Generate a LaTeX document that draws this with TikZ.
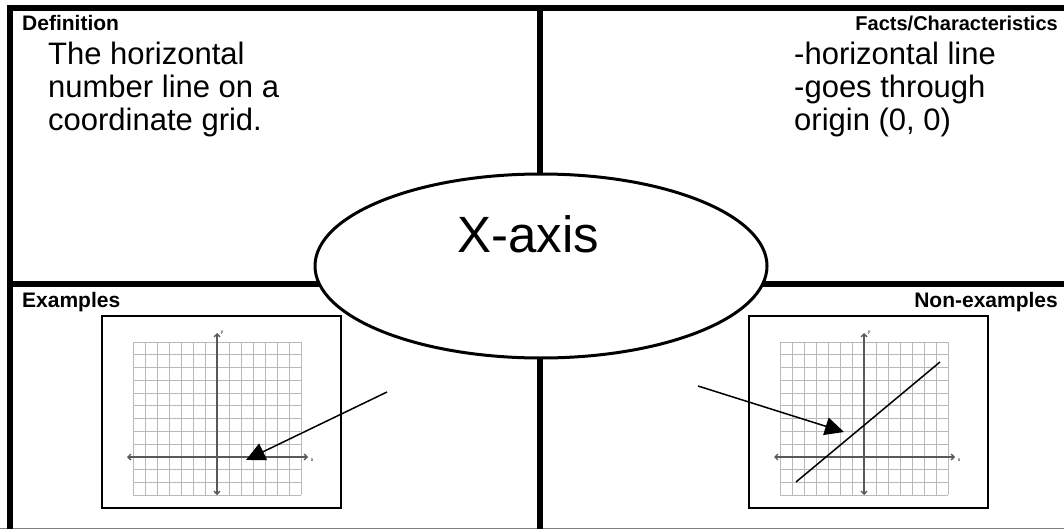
\documentclass[tikz,border=0pt]{standalone}
\usepackage{fontspec}
\setmainfont{Liberation Sans}
\usepackage{tikz}
\usetikzlibrary{arrows.meta,positioning,shapes.geometric}

\begin{document}
\begin{tikzpicture}[
    x=1pt, y=-1pt,
    frame/.style={line width=6pt, line cap=rect},
    header/.style={font=\fontsize{21}{24}\selectfont\bfseries, inner sep=0pt},
    body/.style={font=\fontsize{31}{33}\selectfont, align=left, inner sep=0pt},
    topic/.style={ellipse, draw, line width=3pt, fill=white, minimum width=452pt, minimum height=184pt},
    panel/.style={rectangle, draw, line width=1.5pt, fill=white, minimum width=239pt, minimum height=192pt, inner sep=0pt},
    gridline/.style={gray!55, line width=1pt},
    axis/.style={gray!70!black, line width=1.3pt, {Straight Barb[length=3pt,width=6pt]}-{Straight Barb[length=3pt,width=6pt]}},
    pointer/.style={line width=1.5pt, -{Triangle[length=19pt,width=18pt]}}
]
    \useasboundingbox (0,0) rectangle (1064,529);

    % Frame and quadrant lines
    \coordinate (tl) at (10,8);
    \coordinate (tr) at (1064,8);
    \coordinate (bl) at (10,529);
    \coordinate (ml) at (10,284);
    \coordinate (mr) at (1064,284);
    \coordinate (mt) at (540,8);
    \coordinate (mb) at (540,529);
    \draw[gray, line width=1pt] (0,528) -- (1064,528);
    \draw[frame] (tr) -- (tl) -- (bl);
    \draw[frame] (ml) -- (mr);
    \draw[frame] (mt) -- (mb);

    % Headers
    \node[header, anchor=base west] (defhead) at (22,31) {Definition};
    \node[header, anchor=base east, font=\fontsize{20}{24}\selectfont\bfseries] (facthead) at (1058,31) {Facts/Characteristics};
    \node[header, anchor=base west] (exhead) at (22,307) {Examples};
    \node[header, anchor=base east] (nonhead) at (1058,307) {Non-examples};

    % Texts
    \node[body, anchor=north west] (deftext) at (48,42) {The horizontal\\number line on a\\coordinate grid.};
    \node[body, anchor=north west] (facttext) at (794,42) {-horizontal line\\-goes through\\origin (0, 0)};

    % Graph panels
    \foreach \bx/\nm in {101/ex, 748/non} {
        \node[panel, anchor=north west] (\nm box) at (\bx,315) {};
        \begin{scope}[shift={(\bx,315)}]
            \foreach \i in {0,...,14}
                \draw[gridline] (32+12*\i,27) -- (32+12*\i,180);
            \foreach \j in {0,...,12}
                \draw[gridline] (32,27+12.75*\j) -- (200,27+12.75*\j);
            \draw[axis] (116,180) -- (116,18);
            \draw[axis] (26,142) -- (207,142);
            \node[font=\fontsize{5}{5}\selectfont, inner sep=0pt] (\nm y) at (121,18) {y};
            \node[font=\fontsize{5}{5}\selectfont, inner sep=0pt] (\nm x) at (211,145) {x};
        \end{scope}
    }

    % Line in non-example
    \coordinate (linea) at (796,482);
    \coordinate (lineb) at (940,362);
    \draw[line width=1.5pt] (linea) -- (lineb);

    % Center oval
    \node[topic] (oval) at (541,266) {};
    \node[font=\fontsize{51}{51}\selectfont, inner sep=0pt, anchor=base] (title) at (528,252) {X-axis};

    % Pointers
    \coordinate (exfrom) at (387,392);
    \coordinate (exto) at (246,460);
    \coordinate (nonfrom) at (698,386);
    \coordinate (nonto) at (844,432);
    \draw[pointer] (exfrom) -- (exto);
    \draw[pointer] (nonfrom) -- (nonto);
\end{tikzpicture}
\end{document}
